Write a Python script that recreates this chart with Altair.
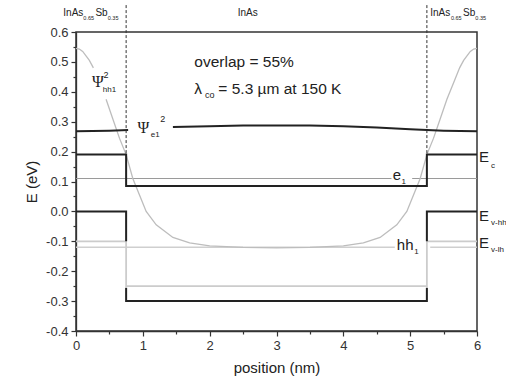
import altair as alt
import pandas as pd

# ---------------- data ----------------
# conduction band edge Ec (eV) vs position (nm)
ec_x = [0.0, 0.75, 0.75, 5.25, 5.25, 6.0]
ec_y = [0.19, 0.19, 0.085, 0.085, 0.19, 0.19]

# heavy-hole valence band edge (dark parts only; middle part of the steps hidden by light-hole line)
hh_x = [0.0, 0.75, 0.75, 0.75, 0.75, 5.25, 5.25, 5.25, 5.25, 6.0]
hh_y = [0.0, 0.0, -0.10, -0.255, -0.30, -0.30, -0.255, -0.10, 0.0, 0.0]
hh_seg = [0, 0, 0, 1, 1, 1, 1, 2, 2, 2]

# light-hole valence band edge
lh_x = [0.0, 0.75, 0.75, 5.25, 5.25, 6.0]
lh_y = [-0.10, -0.10, -0.25, -0.25, -0.10, -0.10]

# e1 level (gap for label)
e1_x = [0.0, 4.72, 5.03, 6.0]
e1_y = [0.11, 0.11, 0.11, 0.11]
e1_seg = [0, 0, 1, 1]

# hh1 level (gap for label)
hh1_x = [0.0, 4.77, 5.30, 6.0]
hh1_y = [-0.12, -0.12, -0.12, -0.12]
hh1_seg = [0, 0, 1, 1]

# Psi_e1^2, gap for label
pe_x = [0.0, 0.25, 0.5, 0.78, 1.45, 2.0, 2.5, 3.0, 3.5, 4.0, 4.5, 5.0, 5.25, 5.5, 6.0]
pe_y = [0.268, 0.269, 0.270, 0.272, 0.282, 0.285, 0.287, 0.287, 0.287, 0.285, 0.281, 0.275, 0.272, 0.270, 0.268]
pe_seg = [0, 0, 0, 0, 1, 1, 1, 1, 1, 1, 1, 1, 1, 1, 1]

# Psi_hh1^2, gap for label on the left
ph_x = [0.0, 0.05, 0.1, 0.15, 0.2, 0.26,
        0.45, 0.55, 0.65, 0.75, 0.85, 0.95, 1.05, 1.2, 1.45, 1.7, 2.0, 2.5, 3.0,
        3.5, 4.0, 4.3, 4.55, 4.8, 4.95, 5.05, 5.15, 5.25, 5.35, 5.45, 5.55, 5.65,
        5.74, 5.8, 5.85, 5.9, 5.95, 6.0]
ph_y = [0.545, 0.543, 0.535, 0.52, 0.505, 0.48,
        0.375, 0.31, 0.245, 0.19, 0.11, 0.055, 0.0, -0.045, -0.087, -0.105, -0.115, -0.12, -0.122,
        -0.12, -0.115, -0.105, -0.087, -0.045, 0.0, 0.055, 0.11, 0.19, 0.245, 0.31, 0.375, 0.43,
        0.48, 0.505, 0.52, 0.535, 0.543, 0.545]
ph_seg = [0] * 6 + [1] * 32

# material interfaces (dashed)
iface_x = [0.75, 5.25]
iface_top = [0.69, 0.69]
iface_bot = [0.19, 0.19]

x_ticks = [0, 0.5, 1, 1.5, 2, 2.5, 3, 3.5, 4, 4.5, 5, 5.5, 6]
y_ticks = [-0.4, -0.35, -0.3, -0.25, -0.2, -0.15, -0.1, -0.05, 0.0, 0.05, 0.1, 0.15,
           0.2, 0.25, 0.3, 0.35, 0.4, 0.45, 0.5, 0.55, 0.6]

# text pieces: text, x, y, font size
txt_t = ["InAs", "0.65", "Sb", "0.35",
         "InAs",
         "InAs", "0.65", "Sb", "0.35",
         "overlap = 55%", "λ", "co", "= 5.3 µm at 150 K",
         "e", "1", "hh", "1",
         "E", "c", "E", "v-hh", "E", "v-lh",
         "2", "hh1", "e1", "2"]
txt_x = [-0.19, 0.11, 0.29, 0.475,
         2.42,
         5.30, 5.61, 5.79, 5.975,
         1.77, 1.77, 1.93, 2.13,
         4.74, 4.87, 4.80, 5.06,
         6.03, 6.21, 6.03, 6.21, 6.03, 6.21,
         0.41, 0.40, 1.12, 1.26]
txt_y = [0.664, 0.648, 0.664, 0.648,
         0.664,
         0.664, 0.648, 0.664, 0.648,
         0.50, 0.41, 0.39, 0.41,
         0.122, 0.098, -0.112, -0.137,
         0.182, 0.152, -0.015, -0.04, -0.105, -0.13,
         0.455, 0.405, 0.255, 0.31]
txt_fs = [10, 5.5, 10, 5.5,
          10,
          10, 5.5, 10, 5.5,
          15.5, 15.5, 9, 15.5,
          15, 8, 15, 8,
          15, 8, 15, 8, 15, 8,
          9, 8, 8, 9]

psi_t = ["Ψ", "Ψ"]
psi_x = [0.24, 0.92]
psi_y = [0.432, 0.278]
psi_fs = [16, 16]

# ---------------- tables ----------------
def path(xs, ys, segs=None):
    segs = segs if segs is not None else [0] * len(xs)
    return pd.DataFrame({"x": xs, "y": ys, "seg": segs, "i": list(range(len(xs)))})

FONT = "Liberation Sans"
DARK = "#222222"

xscale = alt.Scale(domain=[0, 6], nice=False, zero=False)
yscale = alt.Scale(domain=[-0.4, 0.6], nice=False, zero=False)

xaxis = alt.Axis(
    values=x_ticks, title="position (nm)", grid=False,
    labelExpr="round(datum.value*2) % 2 == 1 ? '' : format(datum.value, 'd')",
    tickSize={"condition": {"test": "round(datum.value*2) % 2 == 1", "value": 3}, "value": 5},
    labelFlush=False, labelOverlap=False, labelPadding=3,
    labelFont=FONT, labelFontSize=13, labelColor="#333",
    titleFont=FONT, titleFontSize=15, titleFontWeight="normal", titleColor="#222", titlePadding=8,
    domainColor="#333", tickColor="#333", domainWidth=1.3, tickWidth=1.2,
)
yaxis = alt.Axis(
    values=y_ticks, title="E (eV)", grid=False,
    labelExpr="abs(round(datum.value*20)) % 2 == 1 ? '' : replace(format(datum.value, '.1f'), '\u2212', '-')",
    tickSize={"condition": {"test": "abs(round(datum.value*20)) % 2 == 1", "value": 3}, "value": 5},
    labelFlush=False, labelOverlap=False, labelPadding=3,
    labelFont=FONT, labelFontSize=13, labelColor="#333",
    titleFont=FONT, titleFontSize=15, titleFontWeight="normal", titleColor="#222", titlePadding=6,
    domainColor="#333", tickColor="#333", domainWidth=1.3, tickWidth=1.2,
)

X = alt.X("x:Q", scale=xscale, axis=xaxis)
Y = alt.Y("y:Q", scale=yscale, axis=yaxis)


def line(df, color, width):
    return alt.Chart(df).mark_line(color=color, strokeWidth=width, clip=False).encode(
        x=X, y=Y, detail="seg:N", order="i:Q"
    )


layers = [
    line(path(e1_x, e1_y, e1_seg), "#9a9a9a", 1.2),
    line(path(hh1_x, hh1_y, hh1_seg), "#cfcfcf", 1.5),
    line(path(lh_x, lh_y), "#cccccc", 1.8),
    line(path(ph_x, ph_y, ph_seg), "#bdbdbd", 1.3),
    line(path(ec_x, ec_y), DARK, 2),
    line(path(hh_x, hh_y, hh_seg), DARK, 2),
    line(path(pe_x, pe_y, pe_seg), DARK, 2),
]

rules = alt.Chart(pd.DataFrame({"x": iface_x, "y": iface_top, "y2": iface_bot})).mark_rule(
    color="#333", strokeWidth=1, strokeDash=[3, 2], clip=False
).encode(x=X, y=Y, y2="y2:Q")

text = alt.Chart(pd.DataFrame({"t": txt_t, "x": txt_x, "y": txt_y, "fs": txt_fs})).mark_text(
    align="left", baseline="middle", font=FONT, color="#222", clip=False
).encode(x=X, y=Y, text="t:N", size=alt.Size("fs:Q", scale=None, legend=None))

psi = alt.Chart(pd.DataFrame({"t": psi_t, "x": psi_x, "y": psi_y, "fs": psi_fs})).mark_text(
    align="left", baseline="middle", font="Liberation Serif", color="#222", clip=False
).encode(x=X, y=Y, text="t:N", size=alt.Size("fs:Q", scale=None, legend=None))

chart = alt.layer(*layers, rules, text, psi).properties(
    width=401, height=299,
    autosize=alt.AutoSizeParams(type="none"),
    padding={"left": 76, "top": 32, "right": 29, "bottom": 54},
    background="white",
).configure_view(stroke="#333", strokeWidth=1.5)

chart.save("out.html", embed_options={"renderer": "svg", "actions": False})
